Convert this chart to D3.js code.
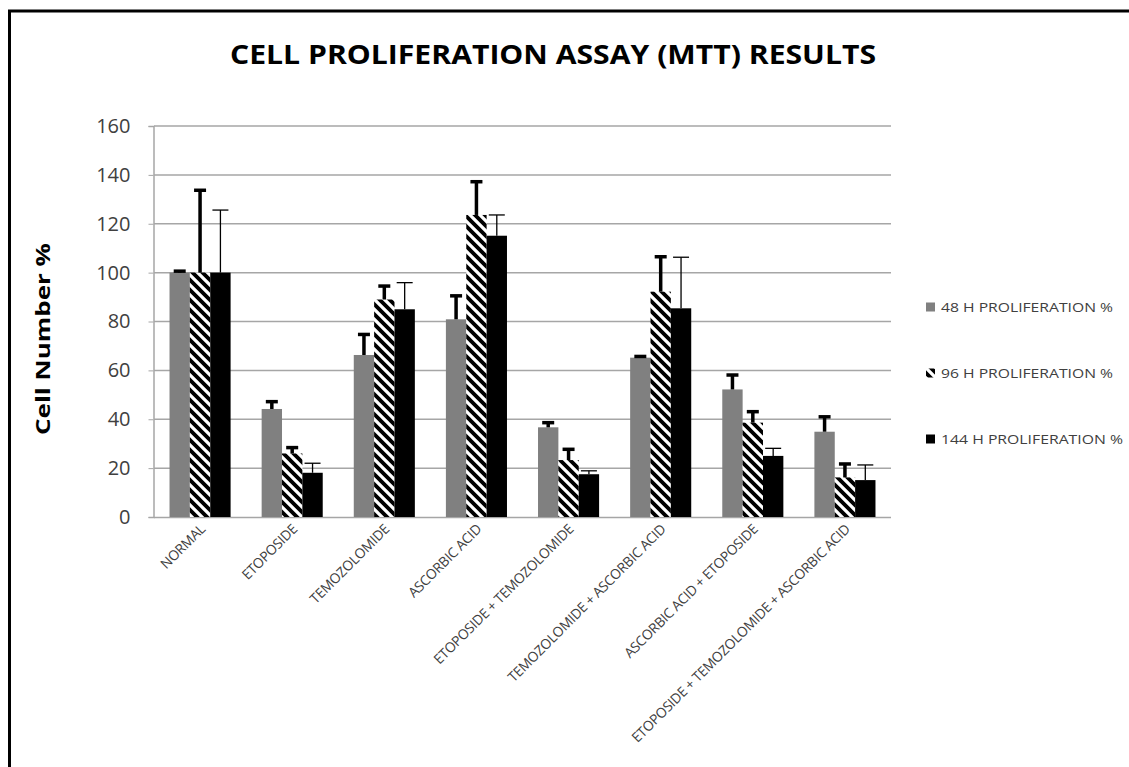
<!DOCTYPE html>
<html>
<head>
<meta charset="utf-8">
<script src="https://cdn.jsdelivr.net/npm/d3@7"></script>
<style>
  body { margin: 0; background: #fff; }
  svg { display: block; }
</style>
</head>
<body>
<div id="chart"></div>
<script>
const categories = [
    'NORMAL', 'ETOPOSIDE', 'TEMOZOLOMIDE', 'ASCORBIC ACID',
    'ETOPOSIDE + TEMOZOLOMIDE', 'TEMOZOLOMIDE + ASCORBIC ACID',
    'ASCORBIC ACID + ETOPOSIDE', 'ETOPOSIDE + TEMOZOLOMIDE + ASCORBIC ACID'
];
const seriesNames = ['48 H PROLIFERATION %', '96 H PROLIFERATION %', '144 H PROLIFERATION %'];

const values48 = [100, 44.2, 66.3, 80.9, 36.7, 65.2, 52.2, 34.9];
const values96 = [100, 26.0, 89.0, 123.6, 23.3, 92.2, 38.6, 16.2];
const values144 = [100, 18.1, 85.0, 115.1, 17.5, 85.4, 25.0, 15.1];

// upper error bar lengths
const err48 = [0.6, 3.0, 8.4, 9.6, 1.9, 0.5, 5.9, 6.1];
const err96 = [33.7, 2.4, 5.5, 13.6, 4.4, 14.3, 4.5, 5.5];
const err144 = [25.6, 3.9, 10.9, 8.5, 1.4, 20.9, 3.1, 6.2];

const yTicks = [0, 20, 40, 60, 80, 100, 120, 140, 160];

const W = 1129, H = 767;
const svg = d3.select('#chart').append('svg').attr('width', W).attr('height', H);

// diagonal hatch for the 96 h series
const defs = svg.append('defs');
const pat = defs.append('pattern')
    .attr('id', 'hatch')
    .attr('patternUnits', 'userSpaceOnUse')
    .attr('width', 10).attr('height', 10);
pat.append('rect').attr('width', 10).attr('height', 10).attr('fill', '#fff');
pat.append('path')
    .attr('d', 'M-5,-5 L15,15 M-5,5 L5,15 M5,-5 L15,5')
    .attr('stroke', '#000').attr('stroke-width', 3.8);

const fills = ['#808080', 'url(#hatch)', '#000'];

svg.append('rect').attr('width', W).attr('height', H).attr('fill', '#fff');
// outer frame
svg.append('rect')
    .attr('x', 9.5).attr('y', 11)
    .attr('width', 1200).attr('height', 900)
    .attr('fill', 'none').attr('stroke', '#000').attr('stroke-width', 3);

const plot = {left: 154, right: 891, top: 126, bottom: 517};

const x0 = d3.scaleBand().domain(categories).range([plot.left, plot.right])
    .paddingInner(0.337).paddingOuter(0.1685);
const x1 = d3.scaleBand().domain([0, 1, 2]).range([0, x0.bandwidth()]);
const y = d3.scaleLinear().domain([0, 160]).range([plot.bottom, plot.top]);

// grid lines
svg.append('g')
    .selectAll('line')
    .data(yTicks.filter(t => t > 0))
    .join('line')
    .attr('x1', plot.left).attr('x2', plot.right)
    .attr('y1', d => y(d)).attr('y2', d => y(d))
    .attr('stroke', '#a6a6a6').attr('stroke-width', 1.5);

// y axis
const yAxis = svg.append('g')
    .attr('transform', `translate(${plot.left - 0.5},0)`)
    .call(d3.axisLeft(y).tickValues(yTicks).tickSize(5).tickPadding(18));
yAxis.select('.domain').attr('stroke', '#a6a6a6').attr('stroke-width', 1.5);
yAxis.selectAll('.tick line').attr('stroke', '#a6a6a6');
yAxis.selectAll('.tick text')
    .attr('font-family', '"Open Sans", sans-serif')
    .attr('font-size', 20).attr('fill', '#404040');

// x axis line
svg.append('line')
    .attr('x1', plot.left).attr('x2', plot.right)
    .attr('y1', plot.bottom + 0.5).attr('y2', plot.bottom + 0.5)
    .attr('stroke', '#a6a6a6').attr('stroke-width', 1.5);

const series = [
    {vals: values48, errs: err48},
    {vals: values96, errs: err96},
    {vals: values144, errs: err144}
];

const rows = [];
series.forEach((s, si) => {
    s.vals.forEach((v, i) => rows.push({cat: categories[i], s: si, v: v, e: s.errs[i]}));
});

// bars
svg.append('g')
    .selectAll('rect')
    .data(rows)
    .join('rect')
    .attr('x', d => x0(d.cat) + x1(d.s))
    .attr('y', d => y(d.v))
    .attr('width', x1.bandwidth())
    .attr('height', d => y(0) - y(d.v))
    .attr('fill', d => fills[d.s]);

// error bars (upper only); 48h and 96h heavy, 144h thin
const eb = svg.append('g').selectAll('g').data(rows).join('g')
    .attr('transform', d => `translate(${x0(d.cat) + x1(d.s) + x1.bandwidth() / 2},0)`);
eb.append('line')
    .attr('y1', d => y(d.v)).attr('y2', d => y(d.v + d.e))
    .attr('stroke', '#000')
    .attr('stroke-width', d => d.s < 2 ? 3.5 : 1.3);
eb.append('line')
    .attr('x1', d => d.s < 2 ? -6 : -8).attr('x2', d => d.s < 2 ? 6 : 8)
    .attr('y1', d => y(d.v + d.e)).attr('y2', d => y(d.v + d.e))
    .attr('stroke', '#000')
    .attr('stroke-width', d => d.s < 2 ? 3.5 : 1.3);

// category labels, rotated
svg.append('g')
    .selectAll('text')
    .data(categories)
    .join('text')
    .attr('transform', d => `translate(${x0(d) + x0.bandwidth() / 2 + 6},${plot.bottom + 13}) rotate(-45)`)
    .attr('text-anchor', 'end')
    .attr('font-family', '"Open Sans", sans-serif')
    .attr('font-size', 13.8)
    .attr('letter-spacing', -0.3)
    .attr('fill', '#404040')
    .text(d => d);

// title
svg.append('text')
    .attr('x', 553).attr('y', 64)
    .attr('text-anchor', 'middle')
    .attr('font-family', '"Open Sans", sans-serif')
    .attr('font-weight', 'bold')
    .attr('font-size', 27)
    .attr('textLength', 646).attr('lengthAdjust', 'spacingAndGlyphs')
    .attr('fill', '#000')
    .text('CELL PROLIFERATION ASSAY (MTT) RESULTS');

// y axis title
svg.append('text')
    .attr('transform', 'translate(50,339) rotate(-90)')
    .attr('text-anchor', 'middle')
    .attr('font-family', '"Open Sans", sans-serif')
    .attr('font-weight', 'bold')
    .attr('font-size', 20)
    .attr('textLength', 192).attr('lengthAdjust', 'spacingAndGlyphs')
    .attr('fill', '#000')
    .text('Cell Number %');

// legend
const legendY = [307, 373, 439];
const lg = svg.append('g').selectAll('g').data(seriesNames).join('g')
    .attr('transform', (d, i) => `translate(926,${legendY[i]})`);
lg.append('rect')
    .attr('x', 0).attr('y', -4.5).attr('width', 9).attr('height', 9)
    .attr('fill', (d, i) => fills[i]);
lg.append('text')
    .attr('x', 15).attr('y', 5)
    .attr('font-family', '"Open Sans", sans-serif')
    .attr('font-size', 13)
    .attr('textLength', (d, i) => i === 2 ? 182 : 172).attr('lengthAdjust', 'spacingAndGlyphs')
    .attr('fill', '#404040')
    .text(d => d);
</script>
</body>
</html>
